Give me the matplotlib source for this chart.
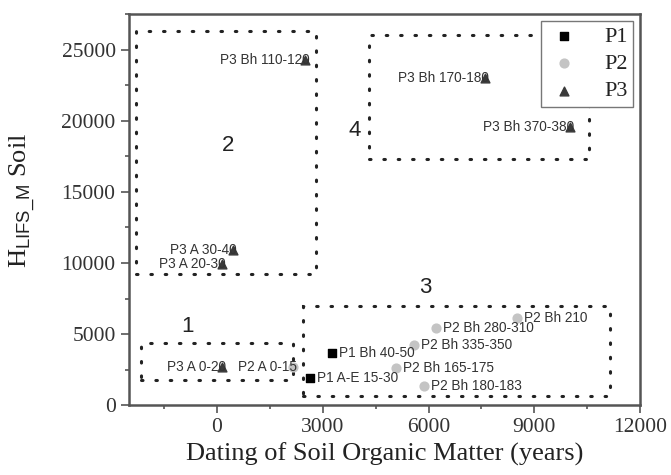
import matplotlib
matplotlib.use("Agg")
import matplotlib.pyplot as plt
from matplotlib.patches import Rectangle
from matplotlib.ticker import MultipleLocator

# data
p1_x = [2650, 3250]
p1_y = [1900, 3650]
p1_lab = ["P1 A-E 15-30", "P1 Bh 40-50"]

p2_x = [2150, 8500, 6200, 5600, 5080, 5880]
p2_y = [2700, 6150, 5450, 4200, 2600, 1330]
p2_lab = ["P2 A 0-15", "P2 Bh 210", "P2 Bh 280-310", "P2 Bh 335-350",
          "P2 Bh 165-175", "P2 Bh 180-183"]

p3_x = [2500, 7600, 10000, 450, 140, 140]
p3_y = [24300, 23000, 19600, 10950, 9950, 2670]
p3_lab = ["P3 Bh 110-120", "P3 Bh 170-180", "P3 Bh 370-380",
          "P3 A 30-40", "P3 A 20-30", "P3 A 0-20"]

# groups: (x0, y0, x1, y1)
groups = ["1", "2", "3", "4"]
group_box = [(-2150, 1750, 2150, 4350),
             (-2300, 9250, 2800, 26300),
             (2450, 650, 11150, 6950),
             (4300, 17350, 10550, 26050)]
group_lab_xy = [(-850, 5500), (300, 18300), (5900, 8250), (3900, 19300)]

serif = "Liberation Serif"
sans = "Liberation Sans"
plt.rcParams["mathtext.fontset"] = "custom"
plt.rcParams["mathtext.rm"] = sans

fig = plt.figure(figsize=(6.71, 4.75), dpi=100)
ax = fig.add_axes([0.192, 0.147, 0.762, 0.823])

ax.scatter(p1_x, p1_y, marker="s", s=30, color="black", label="P1", zorder=3)
ax.scatter(p2_x, p2_y, marker="o", s=40, color="#c4c4c4", label="P2", zorder=3)
ax.scatter(p3_x, p3_y, marker="^", s=40, color="#3a3a3a", label="P3", zorder=3)

tc = "#333333"
fs = 9.8
for x, y, t in zip(p1_x, p1_y, p1_lab):
    ax.annotate(t, (x, y), xytext=(5, 0), textcoords="offset points",
                va="center", ha="left", fontsize=fs, family=sans, color=tc)
for i, (x, y, t) in enumerate(zip(p2_x, p2_y, p2_lab)):
    if i == 0:
        ax.annotate(t, (x, y), xytext=(3, 0), textcoords="offset points",
                    va="center", ha="right", fontsize=fs, family=sans, color=tc)
    else:
        ax.annotate(t, (x, y), xytext=(5, 0), textcoords="offset points",
                    va="center", ha="left", fontsize=fs, family=sans, color=tc)
for x, y, t in zip(p3_x, p3_y, p3_lab):
    ax.annotate(t, (x, y), xytext=(3, 0), textcoords="offset points",
                va="center", ha="right", fontsize=fs, family=sans, color=tc)

for g, (x0, y0, x1, y1), (lx, ly) in zip(groups, group_box, group_lab_xy):
    ax.add_patch(Rectangle((x0, y0), x1 - x0, y1 - y0, fill=False,
                           linestyle=(0, (0.5, 4.2)), linewidth=2.2,
                           edgecolor="#222222", capstyle="round", zorder=2))
    ax.text(lx, ly, g, fontsize=16, family=sans, color="#222222",
            ha="center", va="center")

ax.set_xlim(-2500, 12000)
ax.set_ylim(0, 27500)
ax.xaxis.set_major_locator(MultipleLocator(3000))
ax.xaxis.set_minor_locator(MultipleLocator(1500))
ax.yaxis.set_major_locator(MultipleLocator(5000))
ax.yaxis.set_minor_locator(MultipleLocator(2500))
ax.tick_params(which="both", direction="out", width=1.2, color="#555555")
ax.tick_params(which="major", length=6)
ax.tick_params(which="minor", length=3)
for lbl in ax.get_xticklabels() + ax.get_yticklabels():
    lbl.set_family(serif)
    lbl.set_fontsize(15.5)
    lbl.set_color("#333333")
for sp in ax.spines.values():
    sp.set_linewidth(1.8)
    sp.set_color("#555555")

ax.set_xlabel("Dating of Soil Organic Matter (years)", family=serif,
              fontsize=19, color="#222222")
ax.xaxis.set_label_coords(0.5, -0.095)
ax.set_ylabel(r"H$_{\mathrm{LIFS\_M}}$ Soil", family=serif, fontsize=19,
              color="#222222")
ax.yaxis.set_label_coords(-0.178, 0.525)

leg = ax.legend(loc="upper right", prop={"family": serif, "size": 16},
                frameon=True, fancybox=False, edgecolor="#777777",
                framealpha=1, borderaxespad=0.3, handletextpad=1.0,
                labelspacing=0.3, borderpad=0.25, handlelength=1.6)
leg.get_frame().set_linewidth(1.0)
for t in leg.get_texts():
    t.set_color("#222222")

fig.savefig("out.png", dpi=100)
